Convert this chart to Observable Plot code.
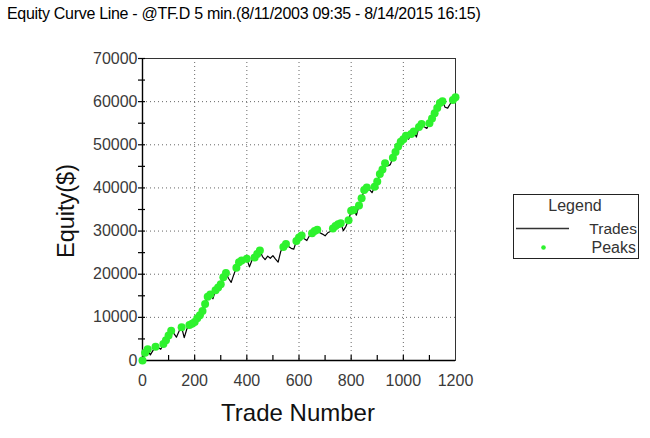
<!DOCTYPE html>
<html>
<head>
<meta charset="utf-8">
<script src="https://cdn.jsdelivr.net/npm/d3@7"></script>
<script src="https://cdn.jsdelivr.net/npm/@observablehq/plot@0.6"></script>
<style>
  body { margin: 0; background: #fff; }
  #wrap { position: relative; width: 650px; height: 438px; overflow: hidden; }
</style>
</head>
<body>
<div id="wrap"></div>
<script>
// ---- data ----
const titleText = "Equity Curve Line - @TF.D 5 min.(8/11/2003 09:35 - 8/14/2015 16:15)";
const xLabel = "Trade Number";
const yLabel = "Equity($)";
const legendTitle = "Legend";
const seriesNames = ["Trades", "Peaks"];

const tradeNumbers = [
  0, 10, 20, 30, 40, 50, 60, 70, 80, 90,
  100, 110, 120, 130, 140, 150, 160, 170, 180, 190,
  200, 210, 220, 230, 240, 250, 260, 270, 280, 290,
  300, 310, 320, 330, 340, 350, 360, 370, 380, 390,
  400, 410, 420, 430, 440, 450, 460, 470, 480, 490,
  500, 510, 520, 530, 540, 550, 560, 570, 580, 590,
  600, 610, 620, 630, 640, 650, 660, 670, 680, 690,
  700, 710, 720, 730, 740, 750, 760, 770, 780, 790,
  800, 810, 820, 830, 840, 850, 860, 870, 880, 890,
  900, 910, 920, 930, 940, 950, 960, 970, 980, 990,
  1000, 1010, 1020, 1030, 1040, 1050, 1060, 1070, 1080, 1090,
  1100, 1110, 1120, 1130, 1140, 1150, 1160, 1170, 1180, 1190,
  1200
];
const equity = [
  0, 1800, 2600, 1300, 2300, 3200, 3000, 2600, 3800, 4700,
  5800, 6900, 6300, 5400, 6800, 7700, 5300, 7300, 8200, 8500,
  8900, 9800, 10500, 11500, 13100, 14800, 15300, 14300, 16300, 16900,
  17700, 19300, 20300, 19000, 18100, 19900, 21500, 22800, 23200, 23000,
  23600, 21700, 23300, 23900, 24700, 25500, 24100, 23400, 24200, 23700,
  24300, 23500, 22800, 25300, 26300, 27000, 26400, 26000, 25800, 27700,
  28500, 29000, 28200, 27800, 28900, 29500, 30000, 30300, 29600, 29300,
  28900, 29600, 29900, 30600, 31200, 31600, 31800, 30100, 31100, 32500,
  34700, 34900, 33700, 35900, 37600, 39500, 40100, 39600, 38900, 40300,
  41500, 43200, 44300, 45700, 45100, 45400, 47000, 48300, 49600, 50700,
  51300, 52100, 51300, 52500, 53100, 51800, 54100, 54800, 54200, 53800,
  55000, 56100, 57300, 58500, 59700, 60100, 58700, 58500, 59500, 60400,
  61000
];

const xTickLabels = [0, 200, 400, 600, 800, 1000, 1200];
const xMinorTicks = [100, 200, 300, 400, 500, 600, 700, 800, 900, 1000, 1100];
const xGrid = [200, 400, 600, 800, 1000];
const yTickLabels = [0, 10000, 20000, 30000, 40000, 50000, 60000, 70000];
const yMinorTicks = [5000, 10000, 15000, 20000, 25000, 30000, 35000, 40000, 45000, 50000, 55000, 60000, 65000, 70000];
const yGrid = [10000, 20000, 30000, 40000, 50000, 60000];

// ---- derived tables ----
const trades = tradeNumbers.map((t, i) => ({trade: t, equity: equity[i]}));
let runMax = -Infinity;
const peaks = trades.filter(d => {
  if (d.equity >= runMax) { runMax = d.equity; return true; }
  return false;
});

const GREEN = "#2ef22e";
const FONT = "Arial, 'Liberation Sans', sans-serif";

const chart = Plot.plot({
  width: 650,
  height: 438,
  marginLeft: 142,
  marginRight: 195,
  marginTop: 58,
  marginBottom: 78,
  style: {fontFamily: FONT, fontSize: "16px", background: "#fff", color: "#333"},
  x: {domain: [0, 1200]},
  y: {domain: [0, 70000]},
  marks: [
    Plot.gridX(xGrid, {stroke: "#666", strokeOpacity: 1, strokeDasharray: "1,3"}),
    Plot.gridY(yGrid, {stroke: "#666", strokeOpacity: 1, strokeDasharray: "1,3"}),
    Plot.frame({stroke: "#333", strokeWidth: 1}),
    Plot.ruleX([0], {stroke: "#000", strokeWidth: 1.4}),
    Plot.ruleY([0], {stroke: "#000", strokeWidth: 1.4}),
    Plot.ruleX(xMinorTicks, {x: d => d, y1: () => 0, y2: () => 0, insetTop: -5, stroke: "#000", strokeWidth: 1.2}),
    Plot.ruleY(yMinorTicks, {y: d => d, x1: () => 0, x2: () => 0, insetLeft: -4, insetRight: -3, stroke: "#000", strokeWidth: 1.2}),
    Plot.axisX({ticks: xTickLabels, tickSize: 0, tickPadding: 14, label: null, fill: "#3a3a3a", fontSize: 16, tickFormat: d3.format("d")}),
    Plot.axisY({ticks: yTickLabels, tickSize: 0, tickPadding: 5, label: null, fill: "#3a3a3a", fontSize: 16, tickFormat: d3.format("d")}),
    Plot.line(trades, {x: "trade", y: "equity", stroke: "#000", strokeWidth: 1.2}),
    Plot.dot(peaks, {x: "trade", y: "equity", r: 4, fill: GREEN, stroke: null})
  ]
});

const svg = d3.select(chart);
svg.style("font-family", FONT);

// title
svg.append("text").attr("x", 7).attr("y", 19).attr("text-anchor", "start")
  .style("font-size", "16px").style("letter-spacing", "-0.3px").attr("fill", "#000")
  .text(titleText);

// axis titles
svg.append("text").attr("x", 298).attr("y", 421).attr("text-anchor", "middle")
  .style("font-size", "24px").attr("fill", "#111").text(xLabel);
svg.append("text").attr("transform", "translate(74,211) rotate(-90)").attr("text-anchor", "middle")
  .style("font-size", "23.5px").attr("fill", "#111").text(yLabel);

// legend
const lg = svg.append("g");
lg.append("rect").attr("x", 513.5).attr("y", 194.5).attr("width", 125).attr("height", 64)
  .attr("fill", "#fff").attr("stroke", "#222");
lg.append("text").attr("x", 575).attr("y", 211).attr("text-anchor", "middle")
  .style("font-size", "16px").attr("fill", "#333").text(legendTitle);
lg.append("line").attr("x1", 516).attr("x2", 569).attr("y1", 228.5).attr("y2", 228.5)
  .attr("stroke", "#333").attr("stroke-width", 1.3);
lg.append("text").attr("x", 637).attr("y", 233.5).attr("text-anchor", "end")
  .style("font-size", "15.5px").attr("fill", "#333").text(seriesNames[0]);
lg.append("circle").attr("cx", 543.5).attr("cy", 247.5).attr("r", 2.3).attr("fill", GREEN);
lg.append("text").attr("x", 636).attr("y", 253.3).attr("text-anchor", "end")
  .style("font-size", "16px").attr("fill", "#333").text(seriesNames[1]);

document.getElementById("wrap").appendChild(chart);
</script>
</body>
</html>
